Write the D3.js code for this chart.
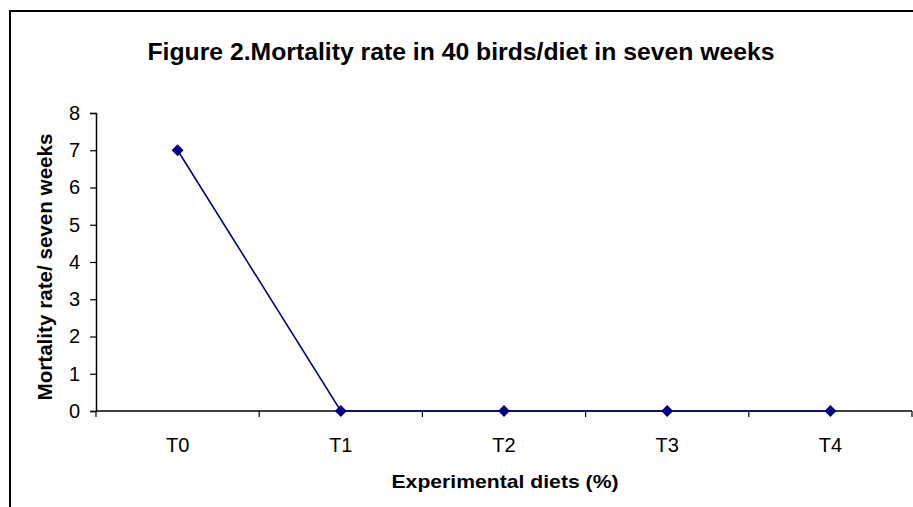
<!DOCTYPE html>
<html>
<head>
<meta charset="utf-8">
<script src="https://cdn.jsdelivr.net/npm/d3@7"></script>
<style>
  body { margin: 0; background: #fff; }
  svg { display: block; font-family: Arial, "Liberation Sans", sans-serif; }
</style>
</head>
<body>
<div id="chart"></div>
<script>
const diets = ["T0", "T1", "T2", "T3", "T4"];
const mortality = [7, 0, 0, 0, 0];
const yTicks = [0, 1, 2, 3, 4, 5, 6, 7, 8];

const W = 913, H = 507;
const margin = { top: 113, right: 1, bottom: 96, left: 96 };
const width = W - margin.left - margin.right;
const height = H - margin.top - margin.bottom;

const svg = d3.select("#chart")
    .append("svg")
    .attr("width", W)
    .attr("height", H);

// outer chart frame (only top and left edges fall inside the picture)
svg.append("path")
    .attr("d", `M10,${H} V11 H${W}`)
    .attr("fill", "none")
    .attr("stroke", "#000")
    .attr("stroke-width", 2);

svg.append("text")
    .attr("x", 461)
    .attr("y", 60)
    .attr("text-anchor", "middle")
    .attr("textLength", 627)
    .attr("lengthAdjust", "spacingAndGlyphs")
    .style("font-size", "24px")
    .style("font-weight", "bold")
    .text("Figure 2.Mortality rate in 40 birds/diet in seven weeks");

const g = svg.append("g")
    .attr("transform", `translate(${margin.left},${margin.top})`);

const x = d3.scaleBand().domain(diets).range([0, width]);
const y = d3.scaleLinear().domain([0, 8]).range([height, 0]);

// y axis
const yAxis = g.append("g")
    .call(d3.axisLeft(y).tickValues(yTicks).tickSize(6).tickPadding(10).tickFormat(d3.format("d")));
yAxis.select(".domain").attr("stroke", "#000").attr("stroke-width", 1.5);
yAxis.selectAll(".tick line").attr("stroke", "#000").attr("stroke-width", 1.2);
yAxis.selectAll("text")
    .attr("font-size", null)
    .style("font-size", "20px")
    .style("font-family", "Arial, 'Liberation Sans', sans-serif")
    .attr("fill", "#000");

// x axis: ticks at band boundaries, labels at band centres
const xAxis = g.append("g")
    .attr("transform", `translate(0,${height})`);
xAxis.append("line")
    .attr("x1", 0).attr("x2", width)
    .attr("stroke", "#000").attr("stroke-width", 1.5);
xAxis.selectAll(".xt")
    .data(d3.range(diets.length + 1))
    .join("line")
    .attr("class", "xt")
    .attr("x1", i => i * x.step())
    .attr("x2", i => i * x.step())
    .attr("y1", 0).attr("y2", 6)
    .attr("stroke", "#000").attr("stroke-width", 1.2);
xAxis.selectAll(".xl")
    .data(diets)
    .join("text")
    .attr("class", "xl")
    .attr("x", d => x(d) + x.bandwidth() / 2)
    .attr("y", 41)
    .attr("text-anchor", "middle")
    .style("font-size", "20px")
    .text(d => d);

// axis titles
svg.append("text")
    .attr("x", 505)
    .attr("y", 488)
    .attr("text-anchor", "middle")
    .attr("textLength", 227)
    .attr("lengthAdjust", "spacingAndGlyphs")
    .style("font-size", "19px")
    .style("font-weight", "bold")
    .text("Experimental diets (%)");

svg.append("text")
    .attr("transform", "translate(52,267) rotate(-90)")
    .attr("text-anchor", "middle")
    .attr("textLength", 267)
    .attr("lengthAdjust", "spacingAndGlyphs")
    .style("font-size", "20px")
    .style("font-weight", "bold")
    .text("Mortality rate/ seven weeks");

// series
const pts = diets.map((d, i) => ({ diet: d, value: mortality[i] }));
const line = d3.line()
    .x(d => x(d.diet) + x.bandwidth() / 2)
    .y(d => y(d.value));

g.append("path")
    .datum(pts)
    .attr("d", line)
    .attr("fill", "none")
    .attr("stroke", "#000080")
    .attr("stroke-width", 1.6);

g.selectAll(".pt")
    .data(pts)
    .join("path")
    .attr("class", "pt")
    .attr("transform", d => `translate(${x(d.diet) + x.bandwidth() / 2},${y(d.value)})`)
    .attr("d", d3.symbol(d3.symbolDiamond2, 90))
    .attr("fill", "#000080");
</script>
</body>
</html>
